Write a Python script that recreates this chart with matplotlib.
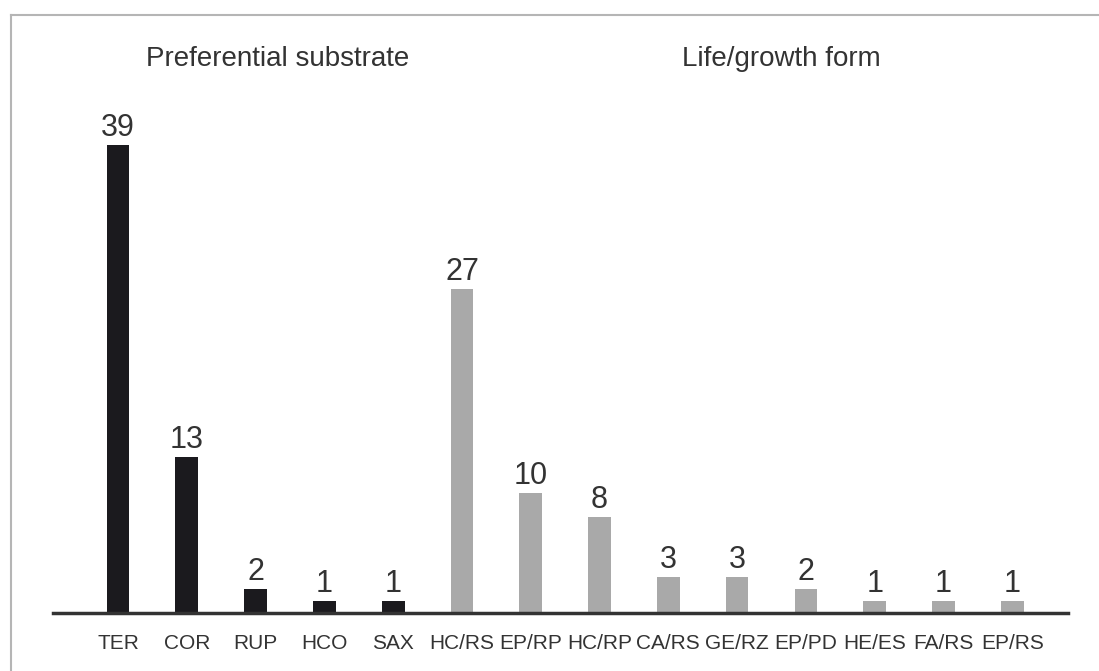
import matplotlib
matplotlib.use('Agg')
import matplotlib.pyplot as plt
from matplotlib.lines import Line2D

plt.rcParams['font.family'] = ['Liberation Sans', 'DejaVu Sans']

# Preferential substrate (black bars)
substrate_labels = ['TER', 'COR', 'RUP', 'HCO', 'SAX']
substrate_counts = [39, 13, 2, 1, 1]

# Life/growth form (grey bars)
form_labels = ['HC/RS', 'EP/RP', 'HC/RP', 'CA/RS', 'GE/RZ', 'EP/PD', 'HE/ES', 'FA/RS', 'EP/RS']
form_counts = [27, 10, 8, 3, 3, 2, 1, 1, 1]

text_col = '#333333'

fig = plt.figure(figsize=(10.99, 6.71), dpi=100)
ax = fig.add_axes([53/1099, (671-613)/671, (1068-53)/1099, (613-109)/671])

x_sub = list(range(len(substrate_labels)))
x_form = [len(substrate_labels) + i for i in range(len(form_labels))]

bars1 = ax.bar(x_sub, substrate_counts, width=0.33, color='#1b1a1e')
bars2 = ax.bar(x_form, form_counts, width=0.33, color='#a9a9a9')

for bars in (bars1, bars2):
    for b in bars:
        ax.annotate(str(int(b.get_height())),
                    (b.get_x() + b.get_width()/2, b.get_height()),
                    xytext=(0, 1.5), textcoords='offset points',
                    ha='center', va='bottom', fontsize=22, color=text_col)

ax.set_xlim(-0.945, 13.81)
ax.set_ylim(0, 42)
ax.set_xticks(x_sub + x_form)
ax.set_xticklabels(substrate_labels + form_labels, fontsize=15, color=text_col)
ax.tick_params(axis='x', length=0, pad=15)
ax.set_yticks([])
for s in ['top', 'right', 'left']:
    ax.spines[s].set_visible(False)
ax.spines['bottom'].set_linewidth(2.5)
ax.spines['bottom'].set_color('#333333')

fig.text(278/1099, 1 - 59/671, 'Preferential substrate', ha='center', va='center',
         fontsize=20, color=text_col)
fig.text(781/1099, 1 - 59/671, 'Life/growth form', ha='center', va='center',
         fontsize=20, color=text_col)

# outer frame (top and left only)
fig.add_artist(Line2D([11/1099, 1], [1 - 15/671, 1 - 15/671], color='#b5b5b5', lw=1.5))
fig.add_artist(Line2D([11/1099, 11/1099], [0, 1 - 15/671], color='#b5b5b5', lw=1.5))

fig.savefig('out.png', dpi=100)
